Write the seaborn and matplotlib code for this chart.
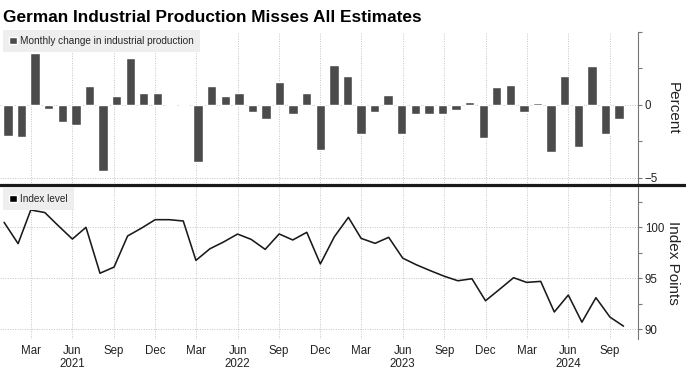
import matplotlib
matplotlib.use("Agg")
import matplotlib.pyplot as plt
from matplotlib.lines import Line2D
from matplotlib.patches import Patch
import pandas as pd
import seaborn as sns

# monthly data, Jan 2021 .. Oct 2024
months = pd.date_range("2021-01-01", "2024-10-01", freq="MS")
bar_labels = [d.strftime("%Y-%m") for d in months]

monthly_change = [
    -2.13, -2.2, 3.53, -0.28, -1.17, -1.35, 1.28, -4.52, 0.64, 3.19, 0.83, 0.83,
    0.05, -0.1, -3.9, 1.28, 0.64, 0.83, -0.46, -0.99, 1.58, -0.6, 0.83, -3.12,
    2.75, 2.0, -1.97, -0.46, 0.67, -1.97, -0.6, -0.6, -0.6, -0.34, 0.2, -2.29,
    1.24, 1.38, -0.46, 0.14, -3.21, 1.95, -2.89, 2.7, -1.97, -0.96,
]

index_level = [
    100.49, 98.4, 101.7, 101.45, 100.15, 98.85, 100.0, 95.5, 96.1, 99.15, 99.93, 100.75,
    100.75, 100.62, 96.76, 97.9, 98.56, 99.34, 98.82, 97.84, 99.35, 98.76, 99.51, 96.41,
    99.08, 100.98, 98.92, 98.43, 99.02, 96.98, 96.33, 95.75, 95.2, 94.76, 94.96, 92.8,
    93.92, 95.06, 94.6, 94.7, 91.7, 93.36, 90.7, 93.1, 91.2, 90.31,
]

tick_dates = pd.date_range("2021-03-01", "2024-09-01", freq="QS-MAR")
tick_labels = [
    "Mar", "Jun\n2021", "Sep", "Dec",
    "Mar", "Jun\n2022", "Sep", "Dec",
    "Mar", "Jun\n2023", "Sep", "Dec",
    "Mar", "Jun\n2024", "Sep",
]

title = "German Industrial Production Misses All Estimates"
bar_color = "#4b4b4b"
line_color = "#1a1a1a"
grid_kw = dict(color="#c4c4c4", linestyle=(0, (1, 1.5)), linewidth=0.7)

sns.set_style("white")
plt.rcParams["font.family"] = ["Liberation Sans", "DejaVu Sans"]

W, H = 686, 369
fig = plt.figure(figsize=(W / 100, H / 100), dpi=100)

ax_bot = fig.add_axes([0, 1 - 339 / H, 638 / W, 154 / H])
ax_top = fig.add_axes([0, 1 - 185 / H, 638 / W, 153 / H], sharex=ax_bot)

# index level line
sns.lineplot(x=months, y=index_level, ax=ax_bot, color=line_color, linewidth=1.15)
ax_bot.set_xlim(pd.Timestamp("2020-12-23"), pd.Timestamp("2024-11-02"))
ax_bot.set_ylim(89.05, 104.15)
ax_bot.set_xticks(tick_dates, labels=tick_labels)
ax_bot.set_yticks([90, 95, 100])
ax_bot.set_yticks([92.5, 97.5, 102.5], minor=True)

# monthly change bars (evenly spaced categories on their own x scale)
ax_bar = ax_top.twiny()
sns.barplot(x=bar_labels, y=monthly_change, ax=ax_bar, color=bar_color,
            saturation=1, width=0.69, errorbar=None)
ax_bar.set_xlim(-0.59, 46.4)
ax_top.set_ylim(-5.5, 5.0)
ax_top.set_yticks([-5, 0])
ax_top.set_yticks([-2.5, 2.5, 5], minor=True)
ax_bar.set_axis_off()

for ax in (ax_top, ax_bot):
    ax.set_xlabel("")
    ax.set_ylabel("")
    ax.grid(True, which="major", **grid_kw)
    ax.yaxis.tick_right()
    for side in ("left", "top", "bottom"):
        ax.spines[side].set_visible(False)
    ax.spines["right"].set_color("#777777")
    ax.spines["right"].set_linewidth(0.8)
    ax.tick_params(axis="y", which="both", direction="out", length=3, width=0.8,
                   color="#777777", labelsize=8.3, labelcolor="#222222", pad=2)
    ax.tick_params(axis="x", length=0, labelsize=8.3, labelcolor="#222222", pad=4)
    ax.set_facecolor("none")

ax_top.tick_params(axis="x", labelbottom=False)

leg_kw = dict(loc="upper left", frameon=True, fancybox=False, framealpha=1,
              facecolor="#eeeeee", edgecolor="none", fontsize=7.2,
              handlelength=0.8, handleheight=0.8, handletextpad=0.3,
              borderpad=0.6, borderaxespad=0)
ax_bar.legend(handles=[Patch(facecolor=bar_color)],
              labels=["Monthly change in industrial production"],
              bbox_to_anchor=(3 / 638, 1.013), **leg_kw)
ax_bot.legend(handles=[Patch(facecolor="black")], labels=["Index level"],
              bbox_to_anchor=(3 / 638, 0.98), **leg_kw)

# axis titles on the right
fig.text(673 / W, 1 - 108 / H, "Percent", rotation=270, ha="center", va="center",
         fontsize=11, color="#222222")
fig.text(673 / W, 1 - 263 / H, "Index Points", rotation=270, ha="center", va="center",
         fontsize=11, color="#222222")

# separator between the panels
fig.add_artist(Line2D([0, 1], [1 - 185 / H] * 2, transform=fig.transFigure,
                      color="#1a1a1a", linewidth=2.3))

fig.text(3 / W, 1 - 22 / H, title, fontsize=12.4, fontweight="bold",
         va="baseline", color="black")

fig.savefig("out.png", dpi=100)
